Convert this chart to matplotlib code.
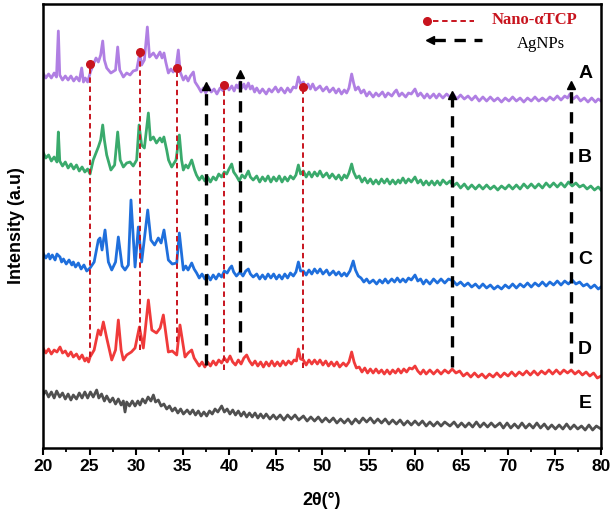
import matplotlib
matplotlib.use("Agg")
import matplotlib.pyplot as plt

# ---------------- data (arbitrary intensity units) ----------------
theta_A = [20.0, 20.3, 20.6, 20.9, 21.2, 21.45, 21.65, 21.8, 22.1, 22.4, 22.7, 23.0, 23.3, 23.6, 23.9,
           24.16, 24.35, 24.55, 24.8, 25.1, 25.4, 25.7, 25.95, 26.2, 26.42, 26.6, 26.85, 27.3, 27.8,
           28.03, 28.25, 28.64, 29.0, 29.36, 29.7, 30.07, 30.43, 30.6, 30.9, 31.22, 31.45, 31.87, 32.2,
           32.58, 32.8, 33.01, 33.2, 33.48, 33.75, 34.0, 34.3, 34.55, 34.75, 35.09, 35.35, 35.6, 35.85,
           36.17, 36.35, 36.7, 37.0, 37.24, 37.5, 37.8, 38.1, 38.4, 38.7, 39.04, 39.4, 39.75, 40.0,
           40.3, 40.55, 40.8, 41.0, 41.19, 41.4, 41.6, 41.8, 42.08, 42.3, 42.5, 42.75, 42.98, 43.3,
           43.6, 44.0, 44.3, 44.6, 45.0, 45.3, 45.6, 46.0, 46.3, 46.6, 46.92, 47.2, 47.46, 47.7, 48.0,
           48.25, 48.5, 48.75, 49.0, 49.3, 49.78, 50.1, 50.5, 50.8, 51.2, 51.5, 51.8, 52.1, 52.4, 52.65,
           52.9, 53.19, 53.4, 53.6, 53.9, 54.2, 54.5, 54.8, 55.1, 55.5, 55.8, 56.1, 56.5, 56.8, 57.1,
           57.5, 57.8, 58.0, 58.3, 58.6, 59.0, 59.3, 59.6, 60.0, 60.3, 60.6, 61.0, 61.3, 61.6, 62.0,
           62.3, 62.6, 63.0, 63.4, 63.76, 64.1, 64.5, 64.9, 65.3, 65.7, 66.1, 66.5, 66.9, 67.3, 67.7,
           68.1, 68.5, 68.9, 69.3, 69.7, 70.1, 70.5, 70.9, 71.3, 71.7, 72.1, 72.5, 72.9, 73.3, 73.7,
           74.1, 74.5, 74.9, 75.3, 75.7, 76.1, 76.4, 76.66, 77.0, 77.4, 77.8, 78.2, 78.6, 79.0, 79.4,
           79.7, 80.0]
int_A = [375, 370, 374, 370, 375, 371, 417, 373, 368, 372, 368, 372, 367, 371, 367,
         380, 366, 370, 366, 376, 383, 390, 386, 393, 407, 388, 380, 375, 378,
         401, 378, 371, 375, 373, 377, 378, 396, 383, 388, 421, 391, 395, 390,
         396, 390, 395, 386, 375, 379, 376, 380, 398, 376, 368, 372, 367, 372,
         376, 366, 361, 356, 360, 355, 361, 356, 359, 354, 360, 357, 363, 358,
         362, 357, 363, 360, 366, 360, 364, 359, 365, 359, 362, 356, 360, 355,
         359, 354, 359, 356, 361, 356, 360, 355, 360, 356, 361, 360, 371, 364, 366,
         360, 364, 359, 364, 358, 362, 357, 361, 356, 360, 355, 359, 354, 358, 355,
         360, 374, 365, 358, 361, 355, 358, 352, 356, 351, 355, 352, 356, 351, 355,
         352, 356, 358, 352, 355, 351, 355, 354, 359, 352, 355, 350, 354, 350, 354,
         350, 354, 350, 354, 351, 354, 349, 353, 349, 352, 348, 352, 347, 351, 347,
         351, 347, 350, 346, 350, 347, 351, 347, 350, 346, 350, 347, 351, 347, 350,
         347, 351, 348, 352, 348, 352, 350, 354, 349, 352, 347, 350, 346, 350, 346,
         349, 347]

theta_B = [20.0, 20.3, 20.6, 20.9, 21.2, 21.5, 21.65, 21.8, 22.1, 22.4, 22.7, 23.0, 23.3, 23.6, 23.9,
           24.2, 24.5, 24.8, 25.06, 25.4, 25.95, 26.2, 26.42, 26.6, 26.85, 27.3, 27.7, 28.03, 28.3,
           28.64, 29.0, 29.36, 29.7, 30.07, 30.33, 30.6, 30.9, 31.33, 31.55, 31.87, 32.2, 32.58, 32.8,
           33.0, 33.3, 33.5, 33.84, 34.3, 34.66, 34.9, 35.09, 35.35, 35.6, 35.99, 36.3, 36.5, 36.8,
           37.1, 37.4, 37.7, 38.0, 38.3, 38.6, 38.9, 39.2, 39.5, 39.75, 40.0, 40.29, 40.5, 40.8, 41.1,
           41.4, 41.7, 42.08, 42.3, 42.6, 42.98, 43.3, 43.6, 43.9, 44.2, 44.5, 44.8, 45.1, 45.4, 45.7,
           46.0, 46.3, 46.6, 46.92, 47.2, 47.46, 47.7, 48.0, 48.3, 48.6, 48.9, 49.2, 49.5, 49.78, 50.1,
           50.5, 50.8, 51.1, 51.5, 51.8, 52.1, 52.4, 52.65, 52.9, 53.19, 53.4, 53.7, 54.0, 54.3, 54.6,
           54.9, 55.2, 55.5, 55.8, 56.1, 56.4, 56.7, 57.0, 57.3, 57.6, 57.9, 58.2, 58.4, 58.7, 59.0,
           59.3, 59.6, 60.0, 60.3, 60.6, 60.9, 61.2, 61.5, 61.8, 62.1, 62.4, 62.7, 63.0, 63.4, 63.76,
           64.1, 64.5, 64.9, 65.3, 65.7, 66.1, 66.5, 66.9, 67.3, 67.7, 68.1, 68.5, 68.9, 69.3, 69.7,
           70.1, 70.5, 70.9, 71.3, 71.7, 72.1, 72.5, 72.9, 73.3, 73.7, 74.1, 74.5, 74.9, 75.3, 75.7,
           76.1, 76.5, 76.9, 77.3, 77.7, 78.1, 78.5, 78.9, 79.3, 79.7, 80.0]
int_B = [296, 290, 293, 287, 291, 286, 316, 287, 282, 286, 280, 284, 279, 283, 277,
         281, 276, 279, 274, 288, 301, 308, 323, 308, 293, 278, 283, 316, 288,
         281, 285, 286, 282, 288, 323, 303, 300, 335, 308, 311, 305, 310, 306,
         311, 298, 288, 281, 288, 313, 288, 278, 283, 280, 288, 278, 273, 268,
         272, 267, 271, 266, 271, 268, 274, 271, 276, 274, 279, 284, 276, 272, 267,
         273, 270, 277, 271, 268, 272, 266, 271, 267, 272, 266, 271, 267, 272, 266,
         271, 267, 272, 269, 273, 283, 274, 277, 271, 276, 271, 276, 272, 277, 271,
         275, 270, 274, 269, 273, 268, 273, 270, 275, 284, 276, 270, 272, 266, 270,
         265, 269, 264, 268, 264, 269, 265, 269, 264, 268, 264, 268, 265, 270, 265,
         269, 266, 271, 265, 268, 263, 267, 263, 267, 263, 267, 263, 268, 264, 267,
         262, 265, 260, 264, 259, 263, 259, 263, 259, 263, 259, 262, 258, 262, 259,
         263, 259, 263, 259, 264, 260, 264, 260, 264, 260, 265, 261, 265, 261, 265,
         261, 266, 262, 265, 261, 263, 259, 262, 258, 261, 258]

theta_C = [20.0, 20.3, 20.6, 20.75, 21.0, 21.3, 21.5, 21.83, 22.0, 22.2, 22.5, 22.8, 23.1, 23.26, 23.5,
           23.8, 24.1, 24.4, 24.7, 25.06, 25.5, 25.95, 26.13, 26.35, 26.67, 27.03, 27.39, 27.8, 28.1,
           28.5, 28.82, 29.18, 29.46, 29.9, 30.25, 30.61, 31.26, 31.6, 32.0, 32.4, 32.7, 33.01, 33.48,
           33.9, 34.38, 34.66, 35.09, 35.35, 35.6, 35.99, 36.25, 36.52, 36.8, 37.1, 37.4, 37.7, 38.0,
           38.3, 38.6, 38.9, 39.2, 39.5, 39.8, 40.1, 40.29, 40.5, 40.8, 41.19, 41.5, 41.8, 42.08, 42.3,
           42.6, 42.98, 43.3, 43.6, 43.9, 44.2, 44.5, 44.8, 45.1, 45.4, 45.7, 46.0, 46.3, 46.6, 46.92,
           47.2, 47.46, 47.7, 48.0, 48.3, 48.6, 48.9, 49.2, 49.5, 49.8, 50.1, 50.5, 50.8, 51.21, 51.5,
           51.8, 52.1, 52.4, 52.65, 53.0, 53.36, 53.6, 53.9, 54.2, 54.5, 54.8, 55.1, 55.5, 55.87, 56.2,
           56.5, 56.8, 57.1, 57.5, 57.8, 58.1, 58.4, 58.7, 59.0, 59.3, 59.6, 60.0, 60.3, 60.6, 60.9,
           61.2, 61.6, 62.0, 62.4, 62.8, 63.2, 63.6, 64.12, 64.5, 64.9, 65.3, 65.7, 66.1, 66.5, 66.9,
           67.3, 67.7, 68.1, 68.5, 68.9, 69.3, 69.7, 70.1, 70.5, 70.9, 71.3, 71.7, 72.1, 72.5, 72.9,
           73.3, 73.7, 74.1, 74.5, 74.9, 75.3, 75.7, 76.1, 76.5, 76.9, 77.3, 77.7, 78.1, 78.5, 78.9,
           79.3, 79.7, 80.0]
int_C = [195, 190, 194, 189, 193, 188, 194, 191, 186, 189, 184, 188, 183, 186, 181,
         185, 179, 183, 177, 180, 186, 208, 210, 198, 218, 186, 178, 186, 211,
         182, 178, 183, 248, 181, 221, 186, 238, 208, 203, 210, 205, 218, 188,
         184, 185, 215, 178, 182, 178, 185, 179, 175, 170, 174, 169, 173, 168,
         173, 169, 174, 171, 177, 175, 180, 182, 176, 172, 176, 172, 177, 179, 174,
         171, 174, 169, 173, 169, 174, 170, 174, 169, 173, 169, 174, 170, 175, 172,
         176, 186, 177, 177, 173, 178, 174, 179, 175, 179, 174, 178, 173, 177, 173,
         176, 172, 175, 172, 177, 187, 178, 172, 170, 166, 169, 165, 168, 164, 168,
         165, 169, 165, 169, 166, 170, 166, 169, 166, 170, 168, 173, 167, 169, 164,
         168, 164, 169, 165, 169, 165, 169, 167, 163, 166, 162, 165, 161, 164, 160,
         164, 160, 163, 159, 162, 159, 163, 160, 164, 160, 164, 161, 165, 161, 165,
         162, 166, 162, 166, 163, 167, 163, 167, 164, 168, 164, 166, 162, 164, 160,
         163, 159, 161]

theta_D = [20.0, 20.3, 20.6, 20.9, 21.2, 21.5, 21.83, 22.1, 22.4, 22.7, 23.0, 23.26, 23.6, 23.9, 24.2,
           24.5, 24.7, 24.9, 25.06, 25.5, 25.95, 26.2, 26.49, 26.85, 27.39, 27.8, 28.1, 28.4, 28.64,
           29.0, 29.5, 29.9, 30.36, 30.79, 31.33, 31.7, 32.2, 32.6, 32.94, 33.48, 33.9, 34.38, 34.73,
           35.27, 35.6, 35.99, 36.25, 36.52, 36.8, 37.1, 37.4, 37.7, 38.0, 38.3, 38.6, 38.9, 39.2, 39.5,
           39.8, 40.11, 40.4, 40.7, 41.0, 41.3, 41.6, 41.9, 42.2, 42.5, 42.8, 43.1, 43.4, 43.7, 44.0,
           44.3, 44.6, 44.9, 45.2, 45.5, 45.8, 46.1, 46.4, 46.7, 47.0, 47.25, 47.46, 47.7, 48.0, 48.3,
           48.6, 48.9, 49.2, 49.5, 49.78, 50.1, 50.4, 50.7, 51.0, 51.3, 51.6, 51.9, 52.29, 52.6, 52.9,
           53.19, 53.45, 53.7, 54.0, 54.3, 54.6, 54.9, 55.2, 55.5, 55.8, 56.1, 56.4, 56.7, 57.0, 57.3,
           57.6, 57.9, 58.2, 58.5, 58.8, 59.1, 59.4, 59.7, 60.0, 60.3, 60.6, 60.9, 61.2, 61.6, 62.0,
           62.4, 62.8, 63.2, 63.6, 64.0, 64.4, 64.8, 65.2, 65.6, 66.0, 66.4, 66.8, 67.2, 67.6, 68.0,
           68.4, 68.8, 69.2, 69.6, 70.0, 70.4, 70.8, 71.2, 71.6, 72.0, 72.4, 72.8, 73.2, 73.6, 74.0,
           74.4, 74.8, 75.2, 75.6, 76.0, 76.4, 76.8, 77.2, 77.6, 78.0, 78.4, 78.8, 79.2, 79.6, 80.0]
int_D = [100, 95, 99, 94, 98, 96, 101, 95, 97, 92, 96, 91, 94, 89, 93,
         87, 90, 86, 91, 98, 118, 113, 126, 110, 88, 98, 128, 98, 88,
         93, 96, 100, 121, 100, 148, 118, 115, 120, 133, 96, 97, 93, 123,
         91, 95, 98, 90, 86, 82, 86, 81, 86, 82, 87, 83, 88, 85, 90,
         86, 92, 86, 83, 88, 84, 90, 93, 87, 83, 87, 82, 86, 81, 86,
         82, 87, 82, 86, 82, 87, 83, 87, 84, 88, 87, 99, 89, 88, 83,
         88, 84, 88, 84, 88, 83, 87, 82, 86, 82, 86, 81, 85, 82, 86,
         96, 86, 80, 81, 76, 80, 75, 79, 75, 79, 75, 78, 74, 78, 74,
         78, 75, 79, 75, 79, 76, 80, 79, 82, 77, 74, 78, 74, 78, 74,
         78, 74, 78, 75, 79, 75, 77, 72, 75, 71, 75, 71, 74, 70, 74,
         71, 75, 71, 75, 72, 76, 72, 76, 73, 77, 73, 77, 73, 77, 74,
         78, 74, 78, 74, 78, 75, 78, 74, 77, 73, 76, 72, 75, 70, 72]

theta_E = [20.0, 20.3, 20.6, 20.9, 21.2, 21.47, 21.8, 22.1, 22.4, 22.7, 23.0, 23.26, 23.6, 23.9, 24.2,
           24.5, 24.8, 25.1, 25.4, 25.77, 26.0, 26.3, 26.6, 26.85, 27.2, 27.5, 27.8, 28.1, 28.4, 28.64,
           28.82, 29.0, 29.3, 29.6, 29.9, 30.2, 30.43, 30.7, 31.0, 31.3, 31.6, 31.87, 32.1, 32.4, 32.7,
           33.0, 33.3, 33.6, 33.9, 34.2, 34.5, 34.8, 35.1, 35.5, 35.81, 36.1, 36.4, 36.7, 37.0, 37.3,
           37.6, 37.9, 38.2, 38.5, 38.8, 39.21, 39.5, 39.8, 40.1, 40.4, 40.7, 41.0, 41.3, 41.6, 41.9,
           42.2, 42.5, 42.8, 43.1, 43.4, 43.7, 44.0, 44.4, 44.77, 45.1, 45.5, 45.9, 46.3, 46.7, 47.1,
           47.5, 48.0, 48.4, 48.8, 49.2, 49.6, 50.0, 50.4, 50.8, 51.21, 51.6, 52.0, 52.4, 52.8, 53.2,
           53.6, 54.0, 54.4, 54.8, 55.2, 55.6, 56.0, 56.4, 56.8, 57.2, 57.6, 58.0, 58.4, 58.8, 59.2,
           59.6, 60.0, 60.4, 60.8, 61.2, 61.6, 62.0, 62.4, 62.8, 63.2, 63.76, 64.2, 64.6, 65.0, 65.4,
           65.8, 66.2, 66.6, 67.0, 67.4, 67.8, 68.2, 68.6, 69.13, 69.5, 69.9, 70.3, 70.7, 71.1, 71.5,
           71.9, 72.3, 72.7, 73.1, 73.5, 73.9, 74.3, 74.7, 75.1, 75.5, 75.9, 76.3, 76.7, 77.1, 77.5,
           77.9, 78.3, 78.7, 79.1, 79.5, 80.0]
int_E = [53, 57, 51, 56, 50, 57, 51, 55, 49, 54, 48, 53, 49, 55, 50,
         56, 50, 56, 51, 58, 50, 54, 47, 52, 46, 50, 44, 49, 43, 47,
         36, 46, 42, 47, 42, 47, 43, 49, 45, 51, 47, 53, 46, 48, 42,
         44, 39, 42, 37, 40, 35, 39, 34, 38, 34, 38, 33, 37, 32, 36,
         32, 37, 34, 39, 36, 42, 36, 39, 34, 38, 33, 37, 32, 36, 31,
         35, 31, 35, 30, 34, 30, 34, 29, 33, 29, 33, 28, 33, 29, 33,
         28, 32, 27, 31, 27, 31, 26, 30, 26, 30, 25, 29, 25, 29, 24,
         29, 25, 30, 26, 30, 25, 29, 25, 29, 24, 28, 24, 28, 23, 27,
         23, 27, 23, 27, 22, 26, 22, 26, 22, 26, 22, 26, 21, 25, 21,
         25, 21, 26, 21, 25, 21, 25, 21, 25, 20, 25, 20, 24, 20, 25,
         20, 24, 20, 25, 20, 24, 19, 23, 19, 23, 19, 24, 19, 23, 19,
         22, 18, 23, 18, 22, 19]

# reference peak markers
tcp_theta = [25.1, 30.4, 34.4, 39.5, 48.0]
tcp_top = [384, 396, 380, 363, 361]
tcp_bottom = [91, 98, 106, 78, 80]

ag_theta = [37.5, 41.2, 64.0, 76.8]
ag_top = [362, 374, 353, 363]
ag_bottom = [83, 96, 81, 85]

curve_labels = ["A", "B", "C", "D", "E"]
label_y = [375, 290, 188, 98, 45]
xticks = [20, 25, 30, 35, 40, 45, 50, 55, 60, 65, 70, 75, 80]

colors = ["#b07fe3", "#3aaa6c", "#1f6fdc", "#f03a3a", "#505050"]
red_mark = "#c8141e"

# ---------------- figure ----------------
fig = plt.figure(figsize=(6.13, 5.2), dpi=100)
L, R, B_, T = 43, 601, 448, 4
W, H = 613, 520
ax = fig.add_axes([L / W, 1 - B_ / H, (R - L) / W, (B_ - T) / H])

series = [(theta_A, int_A), (theta_B, int_B), (theta_C, int_C), (theta_D, int_D), (theta_E, int_E)]
for (tx, iy), c in zip(series, colors):
    ax.plot(tx, iy, color=c, lw=2.0, solid_joinstyle="round", zorder=2)

# dashed reference lines
for t, top, bot in zip(tcp_theta, tcp_top, tcp_bottom):
    ax.plot([t, t], [bot, top], color=red_mark, lw=1.4, dashes=(2.8, 1.9), zorder=3)
    ax.plot([t], [top], marker="o", color=red_mark, ms=5.5, zorder=4)
for t, top, bot in zip(ag_theta, ag_top, ag_bottom):
    ax.plot([t, t], [bot, top], color="black", lw=2.4, dashes=(3.4, 2.6), zorder=3)
    ax.plot([t], [top], marker="^", color="black", ms=6, zorder=4)

for lab, ly in zip(curve_labels, label_y):
    ax.text(78.3, ly, lab, fontsize=14, fontweight="bold", family="Liberation Sans",
            ha="center", va="center")

ax.set_xlim(20, 80)
ax.set_ylim(0, B_ - T)
ax.set_xticks(xticks)
ax.set_xticks([x + 2.5 for x in xticks[:-1]], minor=True)
ax.set_xticklabels([str(x) for x in xticks], fontsize=12.5, fontweight="bold", family="Liberation Sans")
ax.set_yticks([])
ax.tick_params(axis="x", which="major", direction="out", length=5, width=1.5, pad=3)
ax.tick_params(axis="x", which="minor", direction="out", length=3, width=1.3)
for s in ax.spines.values():
    s.set_linewidth(1.8)

ax.set_ylabel("Intensity (a.u)", fontsize=13, fontweight="bold", family="Liberation Sans")
ax.yaxis.set_label_coords((25 - L) / (R - L), 0.5)
ax.set_xlabel("2θ(°)", fontsize=13, fontweight="bold", family="Liberation Sans")
ax.xaxis.set_label_coords(0.5, (B_ - 492) / (B_ - T))

# manual legend (axes coordinates from pixel positions)
def ax_xy(px, py):
    return (px - L) / (R - L), (B_ - py) / (B_ - T)

x0, y0 = ax_xy(433, 20.5)
x1, _ = ax_xy(474, 20.5)
ax.plot([x0, x1], [y0, y0], transform=ax.transAxes, color=red_mark, lw=1.4, dashes=(2.8, 1.9))
mx, my = ax_xy(427, 20.5)
ax.plot([mx], [my], transform=ax.transAxes, marker="o", color=red_mark, ms=5.5)
tx, ty = ax_xy(492, 19.5)
ax.text(tx, ty, "Nano-αTCP", transform=ax.transAxes, fontsize=12, fontweight="bold",
        color=red_mark, family="Liberation Serif", ha="left", va="center")

x0, y0 = ax_xy(434, 39.5)
x1, _ = ax_xy(482, 39.5)
ax.plot([x0, x1], [y0, y0], transform=ax.transAxes, color="black", lw=2.4, dashes=(3.4, 2.6))
mx, my = ax_xy(430, 39.5)
ax.plot([mx], [my], transform=ax.transAxes, marker="<", color="black", ms=6)
tx, ty = ax_xy(517, 43.5)
ax.text(tx, ty, "AgNPs", transform=ax.transAxes, fontsize=12, color="black",
        family="Liberation Serif", ha="left", va="center")

fig.savefig("out.png", dpi=100)
